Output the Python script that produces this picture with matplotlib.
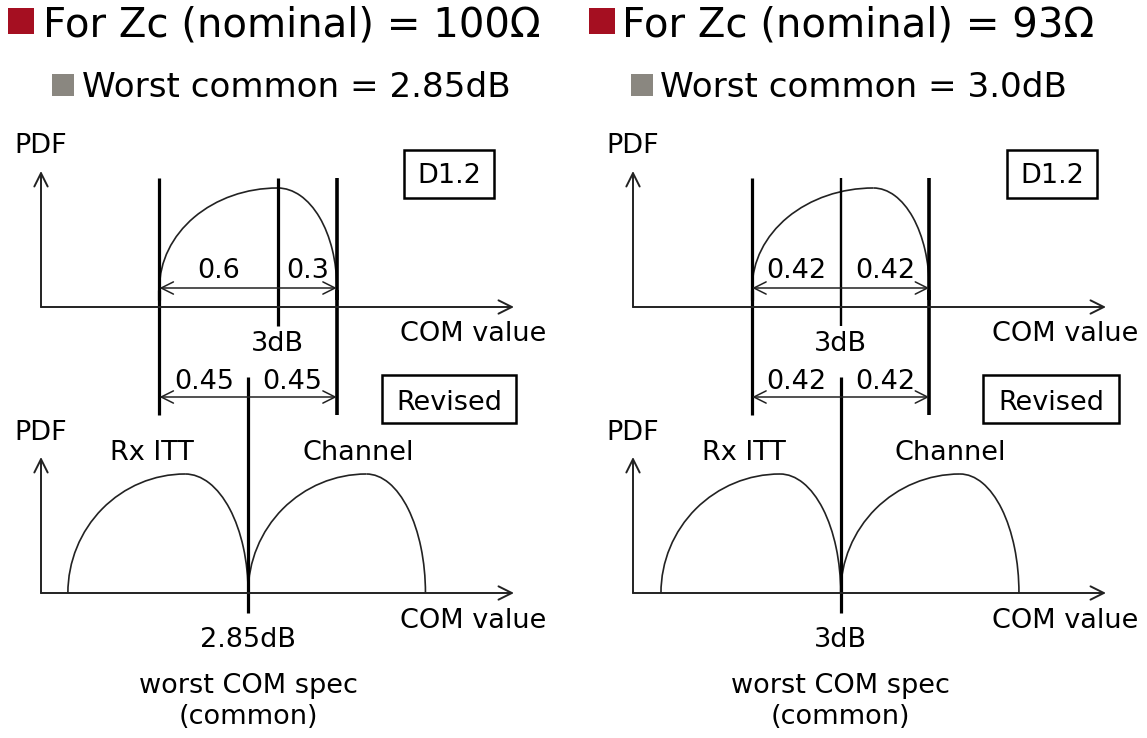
import matplotlib
matplotlib.use("Agg")
import matplotlib.pyplot as plt
from matplotlib.patches import Arc, Rectangle

plt.rcParams['font.family'] = 'DejaVu Sans'

W, H = 1147, 738

# ---- values (dB) ----
titles = ["For Zc (nominal) = 100Ω", "For Zc (nominal) = 93Ω"]
subtitles = ["Worst common = 2.85dB", "Worst common = 3.0dB"]
worst_labels = ["2.85dB", "3dB"]
worst_common = [2.85, 3.0]
d12_ref = [3.0, 3.0]
d12_minus = [0.6, 0.42]
d12_plus = [0.3, 0.42]
d12_peak = [3.0, 3.155]
rev_minus = [0.45, 0.42]
rev_plus = [0.45, 0.42]
rx_start = [1.935, 2.147]
rx_peak = [2.53, 2.712]
ch_peak = [3.45, 3.566]
ch_end = [3.75, 3.846]

# ---- layout (pixels) ----
px_per_db = [197.0, 210.7]
ref_px = [277.7, 840.7]
ax_span = [(0, 573.5), (573.5, W)]
offs = [0, 592]
d12_box = [(404, 494), (1007, 1097)]
rev_box = [(382, 516), (983, 1119)]
title_x = [(8, 43), (589, 622)]
sub_x = [(52, 82), (631, 660)]

FS = 19.5
LINE = 'black'
THIN = '#222222'

fig = plt.figure(figsize=(W / 100, H / 100), dpi=100)

# overlay in figure pixels for the fixed furniture
ov = fig.add_axes([0, 0, 1, 1], zorder=5)
ov.set_xlim(0, W)
ov.set_ylim(H, 0)
ov.axis('off')
ov.patch.set_visible(False)


def arrow(ax, x0, y0, x1, y1, style, ms, lw=1.2, col=THIN):
    ax.annotate('', xy=(x1, y1), xytext=(x0, y0),
                arrowprops=dict(arrowstyle=style, lw=lw, color=col,
                                shrinkA=0, shrinkB=0, mutation_scale=ms))


def bump(ax, start, peak, end, base, h, lw=1.2):
    # quarter ellipse up to the peak, quarter ellipse back down
    ax.add_patch(Arc((peak, base), 2 * (peak - start), 2 * h,
                     theta1=180, theta2=270, lw=lw, color=THIN))
    ax.add_patch(Arc((peak, base), 2 * (end - peak), 2 * h,
                     theta1=270, theta2=360, lw=lw, color=THIN))


for i in range(2):
    k = px_per_db[i]
    a0, a1 = ax_span[i]
    ax = fig.add_axes([a0 / W, 0, (a1 - a0) / W, 1])
    ax.set_xlim(d12_ref[i] - (ref_px[i] - a0) / k, d12_ref[i] + (a1 - ref_px[i]) / k)
    ax.set_ylim(H, 0)
    ax.axis('off')
    ax.patch.set_visible(False)

    o = offs[i]
    # titles
    tx = title_x[i]
    ov.add_patch(Rectangle((tx[0], 8), 26, 26, color='#a50f21', lw=0))
    ov.text(tx[1], 37, titles[i], fontsize=29, va='baseline', ha='left')
    sx = sub_x[i]
    ov.add_patch(Rectangle((sx[0], 74), 22, 22, color='#8a8780', lw=0))
    ov.text(sx[1], 97, subtitles[i], fontsize=24.6, va='baseline', ha='left')

    # axes of both sketches
    for ybase, ytip, ypdf, ycom in [(307, 171, 153, 341), (593, 457, 440, 628)]:
        arrow(ov, 41 + o, ybase, 41 + o, ytip, '->', 24, lw=1.4)
        arrow(ov, 41 + o, ybase, 514 + o, ybase, '->', 24, lw=1.4)
        ov.text(14 + o, ypdf, 'PDF', fontsize=FS, va='baseline', ha='left')
        ov.text(400 + o, ycom, 'COM value', fontsize=FS, va='baseline', ha='left')
    ov.text(152 + o, 460, 'Rx ITT', fontsize=FS, va='baseline', ha='center')
    ov.text(358 + o, 460, 'Channel', fontsize=FS, va='baseline', ha='center')

    # boxes
    for (bx0, bx1), (by0, by1), lab, yb in [(d12_box[i], (150, 198), 'D1.2', 183),
                                             (rev_box[i], (375, 423), 'Revised', 410)]:
        ov.add_patch(Rectangle((bx0, by0), bx1 - bx0, by1 - by0, fill=False,
                               lw=1.8, ec='black'))
        ov.text((bx0 + bx1) / 2, yb, lab, fontsize=FS, va='baseline', ha='center')

    # D1.2 sketch
    ref = d12_ref[i]
    lo = ref - d12_minus[i]
    hi = ref + d12_plus[i]
    ax.plot([lo, lo], [178, 300], color=LINE, lw=2.3, solid_capstyle='butt')
    ax.plot([hi, hi], [178, 300], color=LINE, lw=2.6, solid_capstyle='butt')
    ax.plot([ref, ref], [178, 326], color=LINE, lw=2.3 if i == 0 else 1.7,
            solid_capstyle='butt')
    bump(ax, lo, d12_peak[i], hi, 288, 100)
    arrow(ax, ref, 288, lo, 288, '->', 22, lw=1.1)
    arrow(ax, ref, 288, hi, 288, '->', 22, lw=1.1)
    ax.text((lo + ref) / 2, 278, str(d12_minus[i]), fontsize=FS, ha='center', va='baseline')
    ax.text((hi + ref) / 2, 278, str(d12_plus[i]), fontsize=FS, ha='center', va='baseline')
    ax.text(ref, 351, '3dB', fontsize=FS, ha='center', va='baseline')

    # revised sketch
    wc = worst_common[i]
    rlo = wc - rev_minus[i]
    rhi = wc + rev_plus[i]
    ax.plot([rlo, rlo], [290, 415], color=LINE, lw=2.3, solid_capstyle='butt')
    ax.plot([rhi, rhi], [290, 415], color=LINE, lw=2.6, solid_capstyle='butt')
    ax.plot([wc, wc], [377, 613], color=LINE, lw=2.3, solid_capstyle='butt')
    arrow(ax, wc, 397, rlo, 397, '->', 22, lw=1.1)
    arrow(ax, wc, 397, rhi, 397, '->', 22, lw=1.1)
    ax.text((rlo + wc) / 2, 389, str(rev_minus[i]), fontsize=FS, ha='center', va='baseline')
    ax.text((rhi + wc) / 2, 389, str(rev_plus[i]), fontsize=FS, ha='center', va='baseline')

    bump(ax, rx_start[i], rx_peak[i], wc, 593, 119)
    bump(ax, wc, ch_peak[i], ch_end[i], 593, 119)

    ax.text(wc, 647, worst_labels[i], fontsize=FS, ha='center', va='baseline')
    ax.text(wc, 693, 'worst COM spec', fontsize=FS, ha='center', va='baseline')
    ax.text(wc, 724, '(common)', fontsize=FS, ha='center', va='baseline')

fig.savefig('out.png', dpi=100, facecolor='white')
